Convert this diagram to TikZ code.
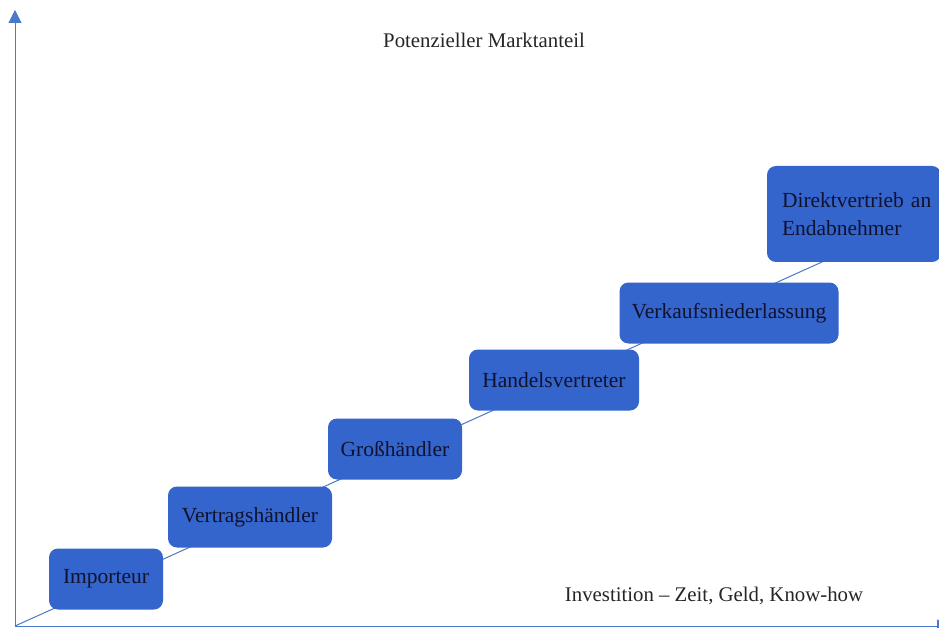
\documentclass[tikz,border=0pt]{standalone}
\usepackage{fontspec}
\setmainfont{Liberation Serif}
\usetikzlibrary{arrows.meta}
\definecolor{boxblue}{HTML}{3465CC}
\definecolor{axisblue}{HTML}{4A78CC}
\definecolor{txtnavy}{HTML}{10122E}
\definecolor{lbltxt}{HTML}{262626}
\tikzset{
  stepbox/.style={draw=none, fill=boxblue, rounded corners=9pt, text=txtnavy,
    font=\fontsize{21.5}{28}\selectfont, inner sep=0pt, anchor=center},
  axisline/.style={draw=axisblue, line width=1pt},
  diag/.style={draw=axisblue, line width=1pt},
  axlabel/.style={text=lbltxt, font=\fontsize{20.8}{24}\selectfont}
}
\begin{document}
\begin{tikzpicture}[x=1pt,y=-1pt]
\useasboundingbox[fill=white] (0,0) rectangle (939,628);
\coordinate (o) at (15,626);
\coordinate (ytop) at (15,10);
\coordinate (xend) at (950,626);
\coordinate (dend) at (822,262);
\draw[diag] (o) -- (dend);
\draw[axisline, -{Triangle[width=13pt,length=13pt]}] (o) -- (ytop);
\draw[axisline, -{Triangle[width=13pt,length=13pt]}] (o) -- (xend);
\node[stepbox, minimum width=114pt, minimum height=61pt] (imp) at (106,579) {Importeur};
\node[stepbox, minimum width=164pt, minimum height=61pt] (ver) at (250,517) {Vertragshändler};
\node[stepbox, minimum width=134pt, minimum height=61pt] (gro) at (395,449) {Großhändler};
\node[stepbox, minimum width=170pt, minimum height=61pt] (han) at (554,380) {Handelsvertreter};
\node[stepbox, minimum width=219pt, minimum height=61pt] (vkn) at (729,313) {Verkaufsniederlassung};
\node[stepbox, minimum width=174pt, minimum height=96pt, align=left, text width=156pt, inner xsep=9pt] (dir) at (854,214) {\hspace*{6pt}Direktvertrieb an\\\hspace*{6pt}Endabnehmer};
\node[axlabel] (ylab) at (484,40) {Potenzieller Marktanteil};
\node[axlabel] (xlab) at (714,596) {Investition – Zeit, Geld, Know-how};
\end{tikzpicture}
\end{document}
